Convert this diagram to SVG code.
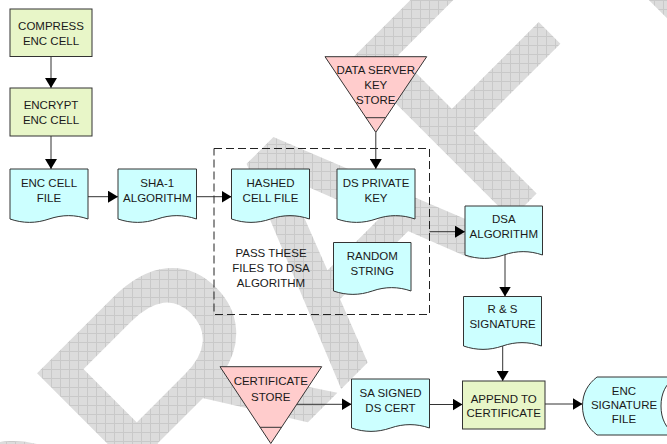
<svg xmlns="http://www.w3.org/2000/svg" width="667" height="444" viewBox="0 0 667 444">
  <defs>
    <style>
      .t { font-family: "Liberation Sans", Arial, sans-serif; font-size: 11.5px; fill: #1a1a1a; text-anchor: middle; }
      .proc { fill: #e8f6c8; stroke: #333; stroke-width: 1; }
      .doc { fill: #ccffff; stroke: #333; stroke-width: 1; }
      .store { fill: #ffcccc; stroke: #333; stroke-width: 1; }
      .conn { fill: none; stroke: #333; stroke-width: 1; marker-end: url(#arrow); }
      .group { fill: none; stroke: #222; stroke-width: 1; stroke-dasharray: 8 4; }
      .wm { font-family: "Liberation Sans", Arial, sans-serif; font-size: 320px; fill: url(#grid); stroke: url(#grid); stroke-width: 6; stroke-linejoin: miter; }
    </style>
    <marker id="arrow" markerUnits="userSpaceOnUse" markerWidth="11" markerHeight="12" refX="10" refY="6" orient="auto">
      <path d="M0,0 L10,6 L0,12 Z" fill="#000"/>
    </marker>
    <pattern id="grid" width="9" height="9" patternUnits="userSpaceOnUse" patternTransform="rotate(45)">
      <rect width="9" height="9" fill="#dcdcdc"/>
      <path d="M0,0.5H9M0.5,0V9" stroke="#c9c9c9" stroke-width="1"/>
    </pattern>
  </defs>

  <rect width="667" height="444" fill="#fff"/>

  <!-- background watermark -->
  <text class="wm" transform="translate(15,711) rotate(-45)">DRAFT</text>

  <!-- grouping frame around the DSA inputs -->
  <g id="dsa-inputs">
    <rect class="group" x="214" y="148.5" width="215.5" height="166"/>
    <text class="t" x="271" y="257">PASS THESE</text>
    <text class="t" x="271" y="272">FILES TO DSA</text>
    <text class="t" x="271" y="287">ALGORITHM</text>
  </g>

  <g id="connectors">
    <line class="conn" x1="51" y1="56.5" x2="51" y2="88"/>
    <line class="conn" x1="51" y1="136" x2="51" y2="169"/>
    <line class="conn" x1="88" y1="196.7" x2="118" y2="196.7"/>
    <line class="conn" x1="196.5" y1="196.7" x2="231.5" y2="196.7"/>
    <line class="conn" x1="375.8" y1="132.3" x2="375.8" y2="169"/>
    <line class="conn" x1="429.5" y1="231.7" x2="465" y2="231.7"/>
    <line class="conn" x1="505" y1="255" x2="505" y2="296.5"/>
    <line class="conn" x1="502.7" y1="346" x2="502.7" y2="381"/>
    <line class="conn" x1="296.8" y1="404.3" x2="351.5" y2="404.3"/>
    <line class="conn" x1="429.5" y1="404.5" x2="462.5" y2="404.5"/>
    <line class="conn" x1="545" y1="404" x2="582.5" y2="404"/>
  </g>

  <g id="compress">
    <rect class="proc" x="10" y="9" width="82" height="47.5"/>
    <text class="t" x="51" y="30">COMPRESS</text>
    <text class="t" x="51" y="45.3">ENC CELL</text>
  </g>

  <g id="encrypt">
    <rect class="proc" x="10" y="88" width="82" height="48"/>
    <text class="t" x="51" y="109.3">ENCRYPT</text>
    <text class="t" x="51" y="124">ENC CELL</text>
  </g>

  <g id="enc-cell-file">
    <path class="doc" d="M10,169 H88 V219 C75,214.5 62.5,214.5 49,219 C36,223.5 23,223.5 10,219 Z"/>
    <text class="t" x="49" y="186.5">ENC CELL</text>
    <text class="t" x="49" y="202">FILE</text>
  </g>

  <g id="sha1">
    <path class="doc" d="M118,169 H196.5 V219 C183.4,214.5 170.3,214.5 157.3,219 C144.2,223.5 131.1,223.5 118,219 Z"/>
    <text class="t" x="157.3" y="186.5">SHA-1</text>
    <text class="t" x="157.3" y="202">ALGORITHM</text>
  </g>

  <g id="hashed-cell-file">
    <path class="doc" d="M231.5,169 H309.5 V219 C296.5,214.5 283.5,214.5 270.5,219 C257.5,223.5 244.5,223.5 231.5,219 Z"/>
    <text class="t" x="270.5" y="186.5">HASHED</text>
    <text class="t" x="270.5" y="202">CELL FILE</text>
  </g>

  <g id="ds-private-key">
    <path class="doc" d="M337,169 H415 V219 C402,214.5 389,214.5 376,219 C363,223.5 350,223.5 337,219 Z"/>
    <text class="t" x="376" y="186.5">DS PRIVATE</text>
    <text class="t" x="376" y="202">KEY</text>
  </g>

  <g id="random-string">
    <path class="doc" d="M333.5,242.5 H411 V291 C398.1,286.5 385.2,286.5 372.3,291 C359.4,295.5 346.4,295.5 333.5,291 Z"/>
    <text class="t" x="372.3" y="260">RANDOM</text>
    <text class="t" x="372.3" y="275">STRING</text>
  </g>

  <g id="data-server-key-store">
    <path class="store" d="M325,56.7 H426.7 L375.8,132.3 Z"/>
    <line x1="365.6" y1="117.7" x2="385.6" y2="117.7" stroke="#333" stroke-width="1"/>
    <text class="t" x="375.8" y="74">DATA SERVER</text>
    <text class="t" x="375.8" y="89.3">KEY</text>
    <text class="t" x="375.8" y="104.3">STORE</text>
  </g>

  <g id="dsa-algorithm">
    <path class="doc" d="M465,206 H542.5 V255 C529.6,250.5 516.7,250.5 503.8,255 C490.9,259.5 477.9,259.5 465,255 Z"/>
    <text class="t" x="503.8" y="222.7">DSA</text>
    <text class="t" x="503.8" y="237.7">ALGORITHM</text>
  </g>

  <g id="rs-signature">
    <path class="doc" d="M463.5,296.5 H541.5 V346 C528.5,341.5 515.5,341.5 502.5,346 C489.5,350.5 476.5,350.5 463.5,346 Z"/>
    <text class="t" x="502.5" y="313.3">R &amp; S</text>
    <text class="t" x="502.5" y="328.3">SIGNATURE</text>
  </g>

  <g id="certificate-store">
    <path class="store" d="M220,366.7 H321.7 L270.8,443.5 Z"/>
    <line x1="260" y1="427.3" x2="281.6" y2="427.3" stroke="#333" stroke-width="1"/>
    <text class="t" x="270.8" y="385">CERTIFICATE</text>
    <text class="t" x="270.8" y="400.7">STORE</text>
  </g>

  <g id="sa-signed-ds-cert">
    <path class="doc" d="M351.5,379 H429.5 V428 C416.5,423.5 403.5,423.5 390.5,428 C377.5,432.5 364.5,432.5 351.5,428 Z"/>
    <text class="t" x="390.5" y="396.7">SA SIGNED</text>
    <text class="t" x="390.5" y="411.7">DS CERT</text>
  </g>

  <g id="append-to-certificate">
    <rect class="proc" x="462.5" y="381" width="82.5" height="48"/>
    <text class="t" x="503.7" y="402.7">APPEND TO</text>
    <text class="t" x="503.7" y="417.3">CERTIFICATE</text>
  </g>

  <g id="enc-signature-file">
    <path class="doc" d="M597,377 H675 C666,384 661,393 661,406 C661,419 666,428 675,435 H597 C588,428 582.5,419 582.5,406 C582.5,393 588,384 597,377 Z"/>
    <text class="t" x="624" y="395">ENC</text>
    <text class="t" x="624" y="409.3">SIGNATURE</text>
    <text class="t" x="624" y="423.3">FILE</text>
  </g>
</svg>
